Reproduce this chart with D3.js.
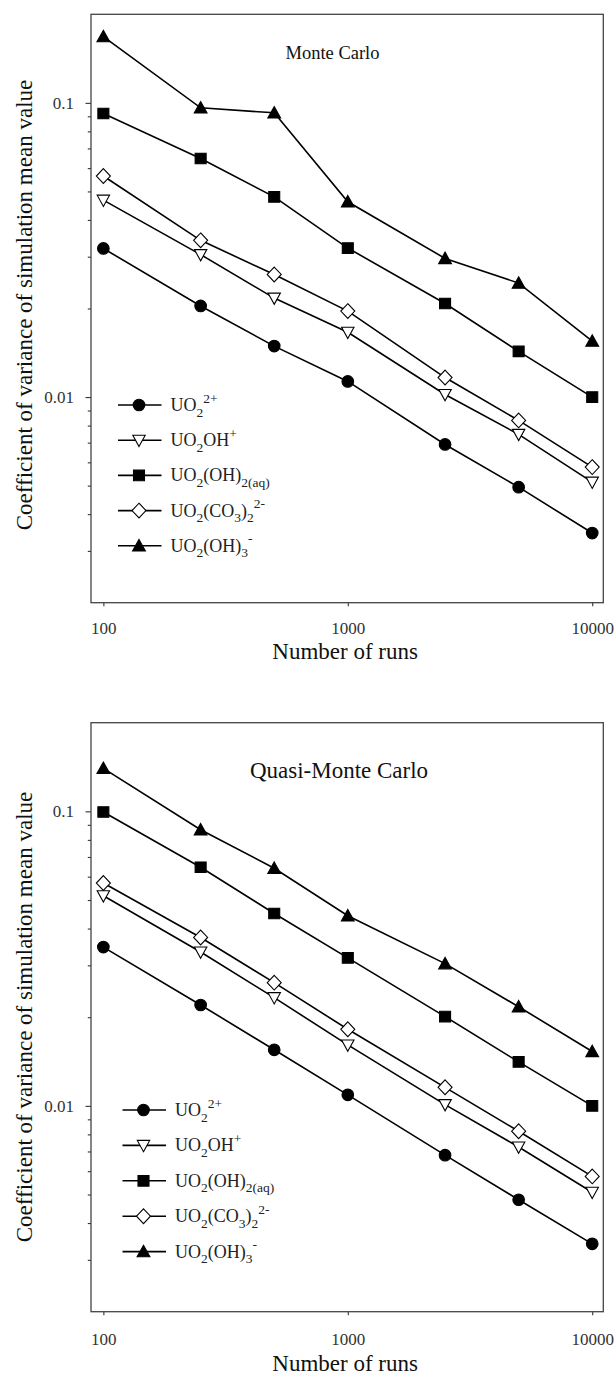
<!DOCTYPE html>
<html>
<head>
<meta charset="utf-8">
<script src="https://cdn.jsdelivr.net/npm/d3@7"></script>
<style>
  html, body { margin: 0; padding: 0; background: #fff; }
  svg { display: block; }
  svg text { font-family: "Liberation Serif", "Times New Roman", serif; }
</style>
</head>
<body>
<svg id="chart" width="616" height="1378" font-family="Liberation Serif, serif"></svg>
<script>
// ---- data ----
const runs = [100, 250, 500, 1000, 2500, 5000, 10000];
const xTickValues = [100, 1000, 10000];
const yTickValues = [0.01, 0.1];
const yTickLabels = ["0.01", "0.1"];
const seriesKeys = ["UO2", "UO2OH", "UO2OH2", "UO2CO32", "UO2OH3"];
const seriesShapes = ["circle", "triangleDown", "square", "diamond", "triangleUp"];
const seriesFill = ["#000", "#fff", "#000", "#fff", "#000"];

// Monte Carlo
const mcUO2     = [0.0320, 0.0204, 0.0149, 0.0113, 0.0069, 0.00494, 0.00345];
const mcUO2OH   = [0.0467, 0.0305, 0.0217, 0.0166, 0.0102, 0.00747, 0.00514];
const mcUO2OH2  = [0.0920, 0.0647, 0.0479, 0.0321, 0.0208, 0.0143, 0.0100];
const mcUO2CO32 = [0.0564, 0.0341, 0.0261, 0.0196, 0.01165, 0.00833, 0.00578];
const mcUO2OH3  = [0.168, 0.0962, 0.0925, 0.0461, 0.0296, 0.0244, 0.0155];

// Quasi-Monte Carlo
const qmcUO2     = [0.0346, 0.0220, 0.0155, 0.0109, 0.0068, 0.0048, 0.0034];
const qmcUO2OH   = [0.0517, 0.0333, 0.0233, 0.0161, 0.0101, 0.00725, 0.00509];
const qmcUO2OH2  = [0.0995, 0.0646, 0.0450, 0.0318, 0.0201, 0.0141, 0.0100];
const qmcUO2CO32 = [0.0571, 0.0373, 0.0262, 0.0182, 0.01156, 0.0082, 0.00576];
const qmcUO2OH3  = [0.140, 0.0866, 0.0641, 0.0442, 0.0304, 0.0217, 0.0153];

// legend labels: [text, position]
const legendLabels = [
  [["UO",""],["2","sub"],["2+","sup"]],
  [["UO",""],["2","sub"],["OH",""],["+","sup"]],
  [["UO",""],["2","sub"],["(OH)",""],["2(aq)","sub"]],
  [["UO",""],["2","sub"],["(CO",""],["3","sub"],[")",""],["2","sub"],["2-","sup"]],
  [["UO",""],["2","sub"],["(OH)",""],["3","sub"],["-","sup"]]
];

const panelTitles = ["Monte Carlo", "Quasi-Monte Carlo"];
const xAxisTitle = "Number of runs";
const yAxisTitle = "Coefficient of variance of simulation mean value";

// ---- layout ----
const FONT = "'Liberation Serif', 'Times New Roman', serif";
const svg = d3.select("#chart");
const panels = [
  { top: 14.3, bottom: 602.7, values: [mcUO2, mcUO2OH, mcUO2OH2, mcUO2CO32, mcUO2OH3],
    title: panelTitles[0], titleX: 332.5, titleY: 58.5, titleSize: 18.5,
    legendX: 118, legendY: 405, legendStep: 35.2, xTitleY: 659, yTitleY: 305, tickPad: 16 },
  { top: 722.7, bottom: 1311.7, values: [qmcUO2, qmcUO2OH, qmcUO2OH2, qmcUO2CO32, qmcUO2OH3],
    title: panelTitles[1], titleX: 339, titleY: 778, titleSize: 23,
    legendX: 122.5, legendY: 1110, legendStep: 35.4, xTitleY: 1371, yTitleY: 1017, tickPad: 17.5 }
];
const left = 91, right = 603.3;

function shapePath(shape) {
  switch (shape) {
    case "circle": return "M5.8,0A5.8,5.8,0,1,1,-5.8,0A5.8,5.8,0,1,1,5.8,0Z";
    case "square": return "M-5.5,-5.3H5.5V5.3H-5.5Z";
    case "triangleUp": return "M0,-6.3L6.4,5.2L-6.4,5.2Z";
    case "triangleDown": return "M0,6.3L6.2,-5L-6.2,-5Z";
    case "diamond": return "M0,-7.4L7,0L0,7.4L-7,0Z";
  }
}

panels.forEach(p => {
  const g = svg.append("g").attr("font-family", FONT);
  const x = d3.scaleLog().domain([89, 11100]).range([left, right]);
  const y = d3.scaleLog().domain([0.002, 0.2]).range([p.bottom, p.top]);

  // minor y ticks
  const minor = [];
  [0.001, 0.01, 0.1].forEach(dec => { for (let k = 2; k <= 9; k++) { const v = dec * k; if (v > 0.002 && v < 0.2) minor.push(v); } });
  const gMinor = g.append("g").attr("transform", `translate(${left},0)`)
    .call(d3.axisLeft(y).tickValues(minor).tickSize(3.2).tickFormat(""));
  gMinor.select(".domain").remove();
  gMinor.selectAll("line").attr("stroke", "#333").attr("stroke-width", 1.1);

  const gy = g.append("g").attr("transform", `translate(${left},0)`)
    .call(d3.axisLeft(y).tickValues(yTickValues).tickSize(5.5).tickPadding(11.5)
      .tickFormat((d, i) => yTickLabels[i]));
  gy.attr("font-family", FONT);
  gy.select(".domain").remove();
  gy.selectAll("line").attr("stroke", "#333").attr("stroke-width", 1.1);
  gy.selectAll("text").attr("font-size", 17).attr("fill", "#333").attr("font-family", FONT);

  const gx = g.append("g").attr("transform", `translate(0,${p.bottom})`)
    .call(d3.axisBottom(x).tickValues(xTickValues).tickSize(3.5).tickPadding(p.tickPad)
      .tickFormat(d3.format("d")));
  gx.attr("font-family", FONT);
  gx.select(".domain").remove();
  gx.selectAll("line").attr("stroke", "#333").attr("stroke-width", 1.1);
  gx.selectAll("text").attr("font-size", 17).attr("fill", "#333").attr("font-family", FONT);

  // frame
  g.append("rect").attr("x", left).attr("y", p.top)
    .attr("width", right - left).attr("height", p.bottom - p.top)
    .attr("fill", "none").attr("stroke", "#444").attr("stroke-width", 1.3);

  // series
  const line = d3.line().x((d, i) => x(runs[i])).y(d => y(d));
  p.values.forEach((vals, si) => {
    g.append("path").datum(vals).attr("d", line)
      .attr("fill", "none").attr("stroke", "#000").attr("stroke-width", 1.6);
  });
  p.values.forEach((vals, si) => {
    g.selectAll(null).data(vals).enter().append("path")
      .attr("transform", (d, i) => `translate(${x(runs[i])},${y(d)})`)
      .attr("d", shapePath(seriesShapes[si]))
      .attr("fill", seriesFill[si]).attr("stroke", "#000").attr("stroke-width", 1.1);
  });

  // panel title
  g.append("text").attr("x", p.titleX).attr("y", p.titleY)
    .attr("text-anchor", "middle").attr("font-size", p.titleSize).attr("fill", "#111")
    .attr("font-family", FONT).text(p.title);

  // legend
  legendLabels.forEach((segs, i) => {
    const ly = p.legendY + i * p.legendStep;
    g.append("line").attr("x1", p.legendX).attr("x2", p.legendX + 43.5)
      .attr("y1", ly).attr("y2", ly).attr("stroke", "#000").attr("stroke-width", 1.6);
    g.append("path").attr("transform", `translate(${p.legendX + 21},${ly})`)
      .attr("d", shapePath(seriesShapes[i]))
      .attr("fill", seriesFill[i]).attr("stroke", "#000").attr("stroke-width", 1.1);
    const t = g.append("text").attr("x", p.legendX + 52.5).attr("y", ly + 6)
      .attr("font-size", 18).attr("fill", "#222").attr("font-family", FONT);
    let cur = 0;
    segs.forEach(([txt, pos]) => {
      const target = pos === "sub" ? 5.5 : pos === "sup" ? -8.5 : 0;
      t.append("tspan").attr("dy", target - cur)
        .attr("font-size", pos ? 13.5 : 18).text(txt);
      cur = target;
    });
  });

  // axis titles
  g.append("text").attr("x", (left + right) / 2 - 2).attr("y", p.xTitleY)
    .attr("text-anchor", "middle").attr("font-size", 23).attr("fill", "#111")
    .attr("font-family", FONT).text(xAxisTitle);
  g.append("text").attr("transform", `translate(32,${p.yTitleY}) rotate(-90)`)
    .attr("text-anchor", "middle").attr("font-size", 23).attr("fill", "#111")
    .attr("font-family", FONT).text(yAxisTitle);
});
</script>
</body>
</html>
